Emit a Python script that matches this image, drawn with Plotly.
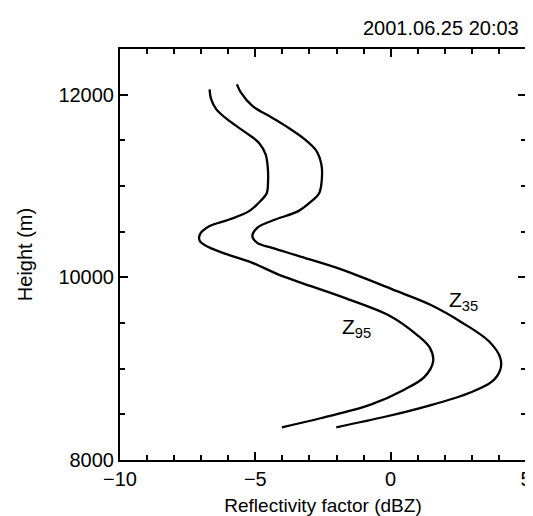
import plotly.graph_objects as go

# Z35 profile (right curve): reflectivity (dBZ) vs height (m)
z35_dbz = [-5.68, -5.53, -5.11, -4.38, -3.78, -3.17, -2.74, -2.56, -2.54, -2.64, -2.92, -3.41,
           -4.26, -4.93, -5.11, -4.93, -4.38, -3.30, -1.80, 0.23, 1.45, 2.66, 3.63, 4.05, 4.05,
           3.75, 2.90, 1.32, -0.13, -2.01]
z35_h = [12113, 12022, 11876, 11748, 11638, 11510, 11383, 11236, 11090, 10920, 10835, 10725,
         10633, 10542, 10451, 10378, 10323, 10225, 10085, 9849, 9702, 9501, 9300, 9118, 8990,
         8860, 8734, 8588, 8479, 8358]

# Z95 profile (left curve)
z95_dbz = [-6.69, -6.63, -6.44, -5.96, -5.35, -4.87, -4.62, -4.54, -4.53, -4.58, -4.81, -5.23,
           -5.96, -6.69, -7.05, -7.05, -6.81, -6.20, -5.11, -4.14, -3.30, -1.70, -0.01, 0.96,
           1.45, 1.57, 1.25, 0.50, -0.74, -2.56, -4.02]
z95_h = [12058, 11948, 11839, 11712, 11584, 11474, 11346, 11200, 11054, 10920, 10835, 10725,
         10633, 10561, 10469, 10397, 10342, 10268, 10159, 10030, 9940, 9775, 9575, 9373,
         9227, 9081, 8910, 8770, 8606, 8460, 8358]

labels = ["Z<sub>35</sub>", "Z<sub>95</sub>"]
label_x = [2.69, -1.25]
label_y = [9742, 9446]

x_tickvals = [-10, -5, 0, 5]
y_tickvals = [8000, 10000, 12000]

FONT = "Liberation Sans, Arial, Helvetica, sans-serif"
FS = 20

fig = go.Figure()
for xs, ys in ((z35_dbz, z35_h), (z95_dbz, z95_h)):
    fig.add_trace(go.Scatter(x=xs, y=ys, mode="lines", hoverinfo="skip",
                             line=dict(color="black", width=2.3, shape="spline", smoothing=1.0)))

for t, lx, ly in zip(labels, label_x, label_y):
    fig.add_annotation(x=lx, y=ly, text=t, showarrow=False,
                       font=dict(family=FONT, size=21, color="black"))

fig.add_annotation(xref="paper", yref="paper", x=1.0, y=1.0, yshift=21, xshift=-5,
                   xanchor="right", yanchor="middle", showarrow=False,
                   text="2001.06.25 20:03", font=dict(family=FONT, size=FS, color="black"))

axis_common = dict(showgrid=False, zeroline=False, showline=True, linecolor="black",
                   linewidth=2, mirror="ticks", ticks="inside", tickcolor="black",
                   tickwidth=2, ticklen=8, tickformat="d",
                   tickfont=dict(family=FONT, size=FS, color="black"))

fig.update_xaxes(range=[-10, 5], tickvals=x_tickvals,
                 minor=dict(dtick=1, tick0=-10, ticks="inside", ticklen=5,
                            tickcolor="black", tickwidth=1.5),
                 title=dict(text="Reflectivity factor (dBZ)", standoff=10,
                            font=dict(family=FONT, size=19, color="black")),
                 **axis_common)
fig.update_yaxes(range=[8000, 12500], tickvals=y_tickvals,
                 minor=dict(dtick=500, tick0=8000, ticks="inside", ticklen=5,
                            tickcolor="black", tickwidth=1.5),
                 title=dict(text="Height (m)", standoff=20,
                            font=dict(family=FONT, size=FS, color="black")),
                 **axis_common)

fig.update_layout(width=533, height=516, showlegend=False,
                  margin=dict(l=112, r=9, t=41, b=64),
                  plot_bgcolor="white", paper_bgcolor="white")

fig.write_html("out.html")
